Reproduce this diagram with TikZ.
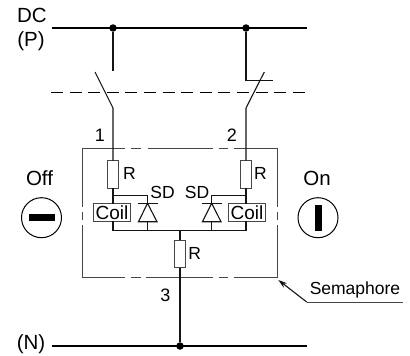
\documentclass[tikz,border=0pt]{standalone}
\usepackage{fontspec}
\setmainfont{Liberation Sans}
\usetikzlibrary{positioning,calc,arrows.meta}
\definecolor{mywire}{RGB}{20,20,20}
\definecolor{myframe}{RGB}{70,70,70}
\tikzset{
  tikzsemapic/.style={
    x=1pt,y=-1pt
    ,inner sep=0pt
    ,outer sep=0pt
    ,font=\fontsize{17.5}{17.5}\selectfont
  }
  ,wire/.style={draw=mywire,line width=1.1pt}
  ,bus/.style={draw=black,line width=2.5pt}
  ,busdash/.style={draw=black,line width=1pt,dash pattern=on 12pt off 6.6pt}
  ,frameline/.style={draw=myframe,line width=1pt}
  ,junction/.style={circle,fill=black,minimum size=7.5pt}
  ,resistor/.style={draw=myframe,fill=white,line width=1pt,minimum width=10.5pt,minimum height=27.5pt}
  ,coilbox/.style={draw=myframe,fill=white,line width=.9pt,minimum width=37.5pt,minimum height=17.5pt,font=\fontsize{19}{19}\selectfont}
  ,lamp/.style={circle,draw=black,line width=1pt,minimum size=40pt}
  ,lampbar/.style={fill=black,inner sep=0pt}
  ,title/.style={font=\fontsize{20.5}{20.5}\selectfont}
  ,numlabel/.style={font=\fontsize{18}{18}\selectfont}
}
\begin{document}
\begin{tikzpicture}[tikzsemapic]
    \useasboundingbox (0,0) rectangle (410,356);
    % buses
    \coordinate (pleft) at (52,28);
    \coordinate (pright) at (307,28);
    \coordinate (nleft) at (52,346);
    \coordinate (nright) at (307,346);
    \draw[bus] (pleft) -- (pright);
    \draw[bus] (nleft) -- (nright);
    \node[junction] (pdot1) at (113,28) {};
    \node[junction] (pdot2) at (246,28) {};
    \node[junction] (ndot) at (180,346) {};
    \draw[busdash] (51,92.7) -- (307,92.7);
    \node[title] (dcnm) at (32,15.5) {DC};
    \node[title] (pnm) at (31,41.5) {(P)};
    \node[title] (nnm) at (31,344) {(N)};
    % semaphore box
    \draw[frameline]
      (125,148.7) -| (82,207.3) (82,212) -- (82,220) (82,225) |- (125,277.3)
      (131.3,148.7) -- (141,148.7) (147.7,148.7) -- (213,148.7) (218.7,148.7) -- (228,148.7)
      (131.3,277.3) -- (141,277.3) (146,277.3) -- (213,277.3) (218.7,277.3) -- (228,277.3)
      (234.3,148.7) -| (277.3,207.3) (277.3,212) -- (277.3,220) (277.3,225) |- (234.3,277.3);
    % left branch
    \node[resistor] (res1) at (113,174.3) {};
    \coordinate (sw1top) at (113,71);
    \coordinate (sw1pin) at (113,108);
    \coordinate (sw1tip) at (95,72);
    \draw[wire] (pdot1) -- (sw1top);
    \draw[wire] (sw1tip) -- (sw1pin) -- (res1.north);
    \node[coilbox] (coil1) at (112,212.3) {Coil};
    \coordinate (join1) at (113,195.7);
    \coordinate (low1) at (113,230.7);
    \coordinate (sd1) at (147.5,203.3);
    \draw[wire] (res1.south) -- (coil1.north -| join1);
    \draw[wire] (coil1.south -| join1) -- (low1);
    \draw[wire] (join1) -| (sd1);
    \draw[wire] (138,203.3) -- (157.5,203.3);
    \draw[wire,line join=miter] (sd1) -- (157,221.7) -- (138.5,221.7) -- cycle;
    \draw[wire] (147.5,221.7) -- (147.5,230.7);
    % right branch
    \node[resistor] (res2) at (246,174.3) {};
    \coordinate (sw2knee) at (246,80.5);
    \coordinate (sw2end) at (272.7,80.5);
    \coordinate (sw2pin) at (246,108);
    \coordinate (sw2tip) at (264.3,72);
    \draw[wire] (pdot2) -- (sw2knee) -- (sw2end);
    \draw[wire] (sw2tip) -- (sw2pin) -- (res2.north);
    \node[coilbox] (coil2) at (247,212.3) {Coil};
    \coordinate (join2) at (246,195.7);
    \coordinate (low2) at (246,230.7);
    \coordinate (sd2) at (211.7,203.3);
    \draw[wire] (res2.south) -- (coil2.north -| join2);
    \draw[wire] (coil2.south -| join2) -- (low2);
    \draw[wire] (join2) -| (sd2);
    \draw[wire] (202,203.3) -- (221.5,203.3);
    \draw[wire,line join=miter] (sd2) -- (221,221.7) -- (202.5,221.7) -- cycle;
    \draw[wire] (211.7,221.7) -- (211.7,230.7);
    % middle branch
    \draw[wire] (low1) -- (low2);
    \node[resistor] (res3) at (180,254.2) {};
    \draw[wire] (180,230.7) -- (res3.north);
    \draw[wire] (res3.south) -- (ndot);
    % labels
    \node[numlabel] (num1) at (100,135.5) {1};
    \node[numlabel] (num2) at (232,135.5) {2};
    \node[numlabel] (num3) at (165.5,295) {3};
    \node (r1nm) at (129.5,173) {R};
    \node (r2nm) at (260.5,173) {R};
    \node (r3nm) at (194.7,253) {R};
    \node (sd1nm) at (162.6,192) {SD};
    \node (sd2nm) at (197,192) {SD};
    % off and on
    \node[title] (offnm) at (39.5,178.5) {Off};
    \node[title] (onnm) at (317,178.5) {On};
    \node[lamp] (offlamp) at (41.5,217.7) {};
    \node[lamp] (onlamp) at (318,217.7) {};
    \node[lampbar,minimum width=26pt,minimum height=7.3pt] (offbar) at (offlamp) {};
    \node[lampbar,minimum width=7pt,minimum height=26pt] (onbar) at (onlamp) {};
    % callout
    \node (semanm) at (355,289.5) {Semaphore};
    \coordinate (corner) at (278.3,280);
    \coordinate (under1) at (306.7,302);
    \coordinate (under2) at (403,302);
    \draw[frameline] (under2) -- (under1);
    \draw[wire,-{Stealth[length=9pt,width=5.5pt]}] (under1) -- (corner);
  \end{tikzpicture}
\end{document}
